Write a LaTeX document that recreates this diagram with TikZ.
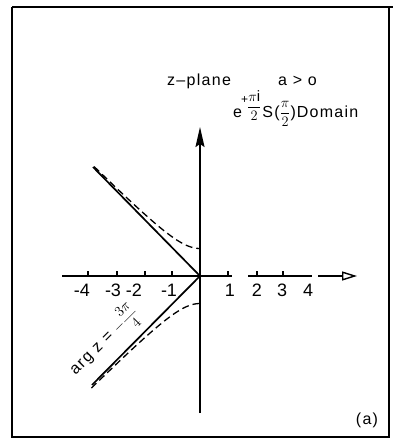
\documentclass[tikz,border=0pt]{standalone}
\usepackage{fontspec}
\setmainfont{Liberation Sans}
\newfontfamily\lettering[LetterSpace=8]{Liberation Sans}
\usetikzlibrary{arrows.meta}
\begin{document}
\begin{tikzpicture}[x=1pt,y=-1pt,
  thickline/.style={line width=1.7pt},
  dashline/.style={line width=1.3pt, dash pattern=on 7pt off 4pt},
  txt/.style={inner sep=0pt, font=\lettering\fontsize{16}{19}\selectfont},
  ticklbl/.style={inner sep=0pt, anchor=base, font=\fontsize{18}{20}\selectfont},
  tickmark/.style={line width=1.3pt}]
\useasboundingbox (0,0) rectangle (393,438);
% frame
\draw[line width=1.6pt] (12,7) -- (393,7);
\draw[line width=1.6pt] (12,7) -- (12,437) -- (389,437) -- (389,7);
% axes
\coordinate (O) at (200,276);
\coordinate (vb) at (200,413);
\coordinate (vt) at (200,127);
\draw[thickline,-{Stealth[length=20pt,width=9pt,inset=3pt]}] (vb) -- (vt);
\coordinate (hl) at (62,276);
\coordinate (h1) at (232,276);
\coordinate (h2) at (248,276);
\coordinate (h3) at (312,276);
\coordinate (h4) at (318,276);
\coordinate (ht) at (357,276);
\draw[thickline] (hl) -- (h1);
\draw[thickline] (h2) -- (h3);
\draw[thickline,-{Triangle[open,length=15pt,width=9pt,line width=1.4pt]}] (h4) -- (ht);
% ticks
\foreach \t in {88,117,145,172,228,257,283}
  \draw[tickmark] (\t,276) -- (\t,271);
% tick labels
\node[ticklbl] (m4) at (82,296) {-4};
\node[ticklbl] (m3) at (113,296) {-3};
\node[ticklbl] (m2) at (134,296) {-2};
\node[ticklbl] (m1) at (169,296) {-1};
\node[ticklbl] (p1) at (230,296) {1};
\node[ticklbl] (p2) at (257,296) {2};
\node[ticklbl] (p3) at (282,296) {3};
\node[ticklbl] (p4) at (308,296) {4};
% diagonal lines
\coordinate (ul) at (93,167);
\coordinate (ll) at (92,385);
\draw[thickline] (O) -- (ul);
\draw[thickline] (O) -- (ll);
% dashed hyperbolas
\draw[dashline] plot[domain=-3.85:0,samples=60] ({200+27.5*\x},{276-27.5*sqrt(1+\x*\x)});
\draw[dashline] plot[domain=-3.95:0,samples=60] ({200+27.5*\x},{276+27.5*sqrt(1+\x*\x)});
% texts
\node[txt,anchor=base west] (zp) at (167,86) {z–plane};
\node[txt,anchor=base west] (ao) at (278,86) {a > o};
\node[txt,anchor=base west] (dom) at (233,118) {e\hspace{-1pt}\raisebox{14pt}{\fontsize{12}{12}\selectfont +}\hspace{-1pt}\raisebox{7pt}{\fontsize{15}{15}\selectfont$\displaystyle\frac{\pi\mathrm{i}}{2}$}\hspace{1pt}S(\raisebox{1pt}{\fontsize{14}{14}\selectfont$\displaystyle\frac{\pi}{2}$})\hspace{1pt}Domain};
\node[txt,rotate=45] (arg) at (104,341) {arg z = \fontsize{14}{14}\selectfont$\displaystyle-\frac{3\pi}{4}$};
\node[txt,anchor=base] (lab) at (367,424) {(a)};
\end{tikzpicture}
\end{document}
